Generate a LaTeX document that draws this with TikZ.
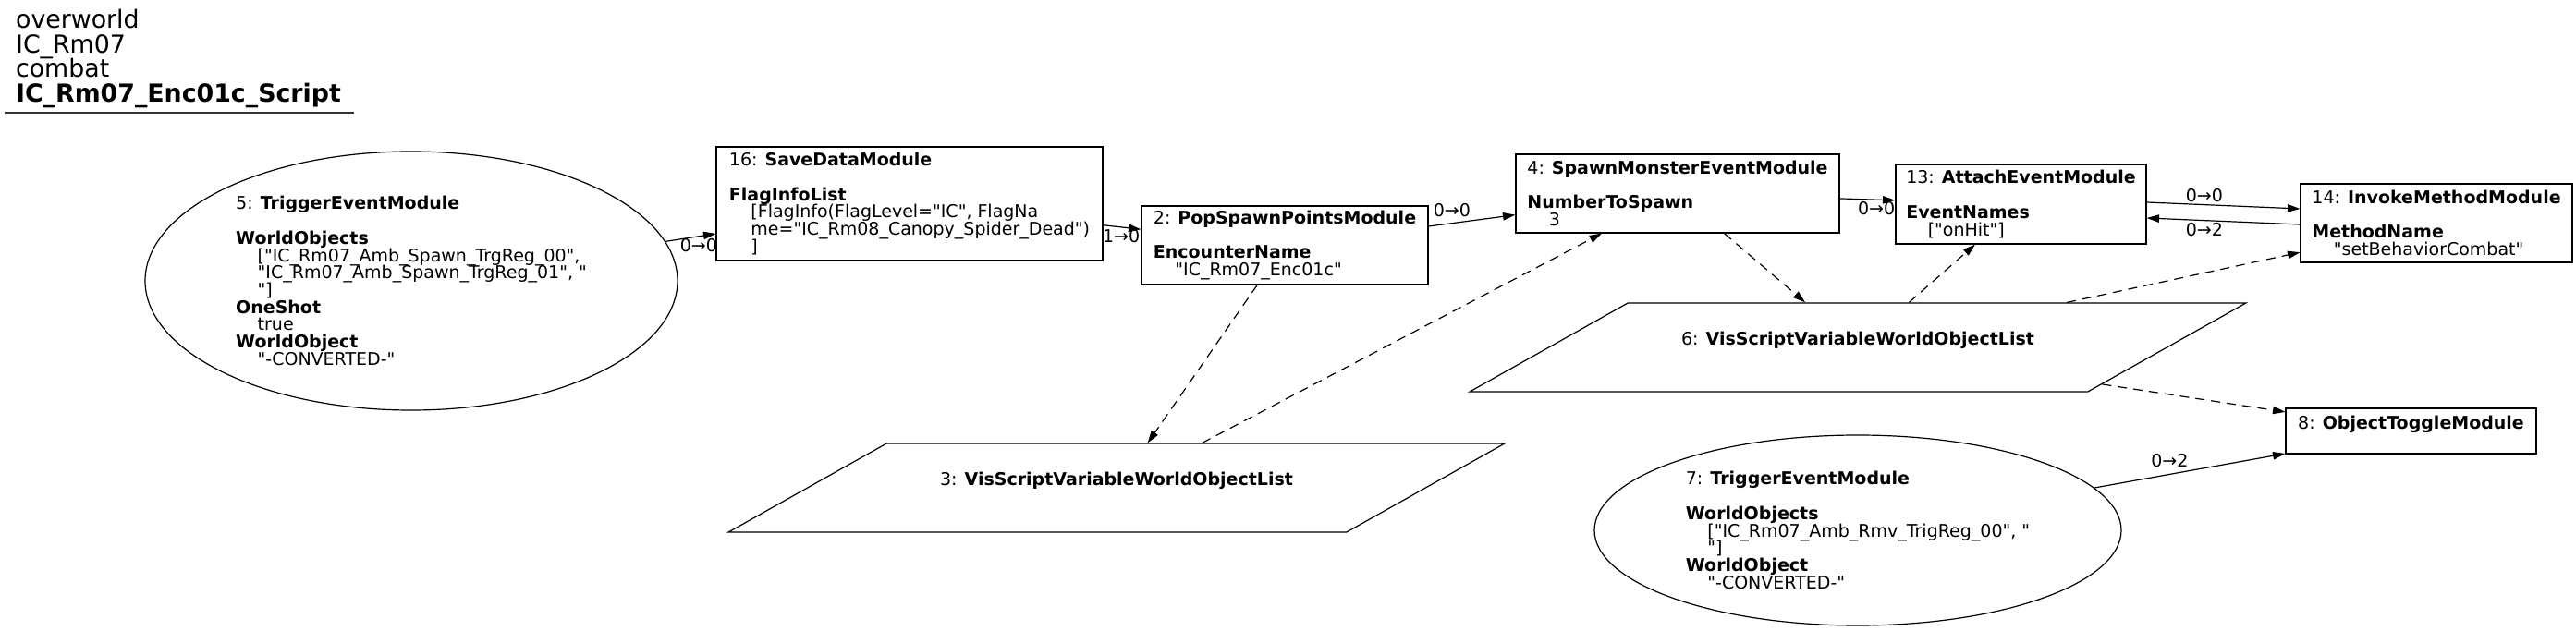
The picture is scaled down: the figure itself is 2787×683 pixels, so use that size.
\documentclass[tikz,border=0pt]{standalone}
\usepackage{fontspec}
\setmainfont{DejaVu Sans}[Ligatures=TeXOff]
\usetikzlibrary{shapes.geometric,arrows.meta}
\newcommand\modfont{\fontsize{9.5}{9.35}\selectfont\lineskiplimit=-5pt\relax}
\newcommand\hdfont{\fontsize{13.4}{13.35}\selectfont\lineskiplimit=-5pt\relax}
\newcommand\indt{\hspace*{11.75pt}}
\newcommand\ttl[1]{\hfill#1\hfill\mbox{}}

\begin{document}
\begin{tikzpicture}[x=0.5pt,y=-0.5pt,line width=0.6pt,
    mod/.style={draw,inner sep=0pt,align=left,font=\modfont},
    box/.style={mod,rectangle},
    trig/.style={mod,ellipse},
    var/.style={mod,trapezium,trapezium left angle=29.3,trapezium right angle=150.7,
      inner xsep=29pt,inner ysep=15.7pt},
    lbl/.style={font=\modfont,inner sep=1pt},
    dep/.style={dash pattern=on 5pt off 3.5pt}]
  \path[fill=white,use as bounding box] (0,0) rectangle (2787,683);
  \node[anchor=north west,inner sep=0pt,align=left,font=\hdfont] (head) at (16.5,9.6)
    {overworld\\IC\_Rm07\\combat\\\textbf{IC\_Rm07\_Enc01c\_Script}};
  \draw[line width=0.8pt,black!80] (5,122) -- (383,122);
  \node[trig,minimum width=288pt,minimum height=140pt] (t5) at (445,304)
    {\ttl{5: \textbf{TriggerEventModule}}\\ \mbox{}\\ \textbf{WorldObjects}\\
     \indt["IC\_Rm07\_Amb\_Spawn\_TrgReg\_00",\\ \indt"IC\_Rm07\_Amb\_Spawn\_TrgReg\_01", "\\ \indt"]\\
     \textbf{OneShot}\\ \indt true\\ \textbf{WorldObject}\\ \indt"-CONVERTED-"};
  \node[box,minimum width=209pt,minimum height=61.5pt] (m16) at (984,220.5)
    {\ttl{16: \textbf{SaveDataModule}}\\ \mbox{}\\ \textbf{FlagInfoList}\\
     \indt[FlagInfo(FlagLevel="IC", FlagNa\\ \indt me="IC\_Rm08\_Canopy\_Spider\_Dead")\\ \indt]};
  \node[box,minimum width=155pt,minimum height=42.5pt] (m2) at (1390,265.5)
    {\ttl{2: \textbf{PopSpawnPointsModule}}\\ \mbox{}\\ \textbf{EncounterName}\\ \indt"IC\_Rm07\_Enc01c"};
  \node[var] (v3) at (1208,528) {\ttl{3: \textbf{VisScriptVariableWorldObjectList}}\\ \mbox{}};
  \node[box,minimum width=175pt,minimum height=42.5pt] (m4) at (1815,209.5)
    {\ttl{4: \textbf{SpawnMonsterEventModule}}\\ \mbox{}\\ \textbf{NumberToSpawn}\\ \indt 3};
  \node[var] (v6) at (2010,376) {\ttl{6: \textbf{VisScriptVariableWorldObjectList}}\\ \mbox{}};
  \node[box,minimum width=135.5pt,minimum height=43pt] (m13) at (2186.5,221)
    {\ttl{13: \textbf{AttachEventModule}}\\ \mbox{}\\ \textbf{EventNames}\\ \indt["onHit"]};
  \node[box,minimum width=147pt,minimum height=42.5pt] (m14) at (2636,241.5)
    {\ttl{14: \textbf{InvokeMethodModule}}\\ \mbox{}\\ \textbf{MethodName}\\ \indt"setBehaviorCombat"};
  \node[trig,minimum width=285pt,minimum height=103pt] (t7) at (2010,574)
    {\ttl{7: \textbf{TriggerEventModule}}\\ \mbox{}\\ \textbf{WorldObjects}\\
     \indt["IC\_Rm07\_Amb\_Rmv\_TrigReg\_00", "\\ \indt"]\\ \textbf{WorldObject}\\ \indt"-CONVERTED-"};
  \node[box,minimum width=135.5pt,minimum height=24.5pt] (m8) at (2608.5,466.5)
    {\ttl{8: \textbf{ObjectToggleModule}}\\ \mbox{}};
  \path[-{Stealth[inset=0pt,length=6.7pt,width=4.2pt]}]
    (t5) edge node[lbl,pos=0.66,below] {0→0} (m16)
    (m16) edge node[lbl,pos=0.48,below] {1→0} (m2)
    (m2) edge node[lbl,pos=0.27,above=2pt] {0→0} (m4)
         edge[dep] (v3)
    (v3) edge[dep] (m4)
    (m4) edge node[lbl,pos=0.66,below] {0→0} (m13)
         edge[dep] (v6)
    ([yshift=1pt]m13.east) edge node[lbl,pos=0.375,above] {0→0} ([yshift=7.75pt]m14.west)
    ([yshift=-0.75pt]m14.west) edge node[lbl,pos=0.625,below] {0→2} ([yshift=-7.5pt]m13.east)
    (v6) edge[dep] (m13)
         edge[dep] (m14)
         edge[dep] (m8)
    (t7) edge node[lbl,pos=0.394,above=2.5pt] {0→2} (m8);
\end{tikzpicture}
\end{document}
